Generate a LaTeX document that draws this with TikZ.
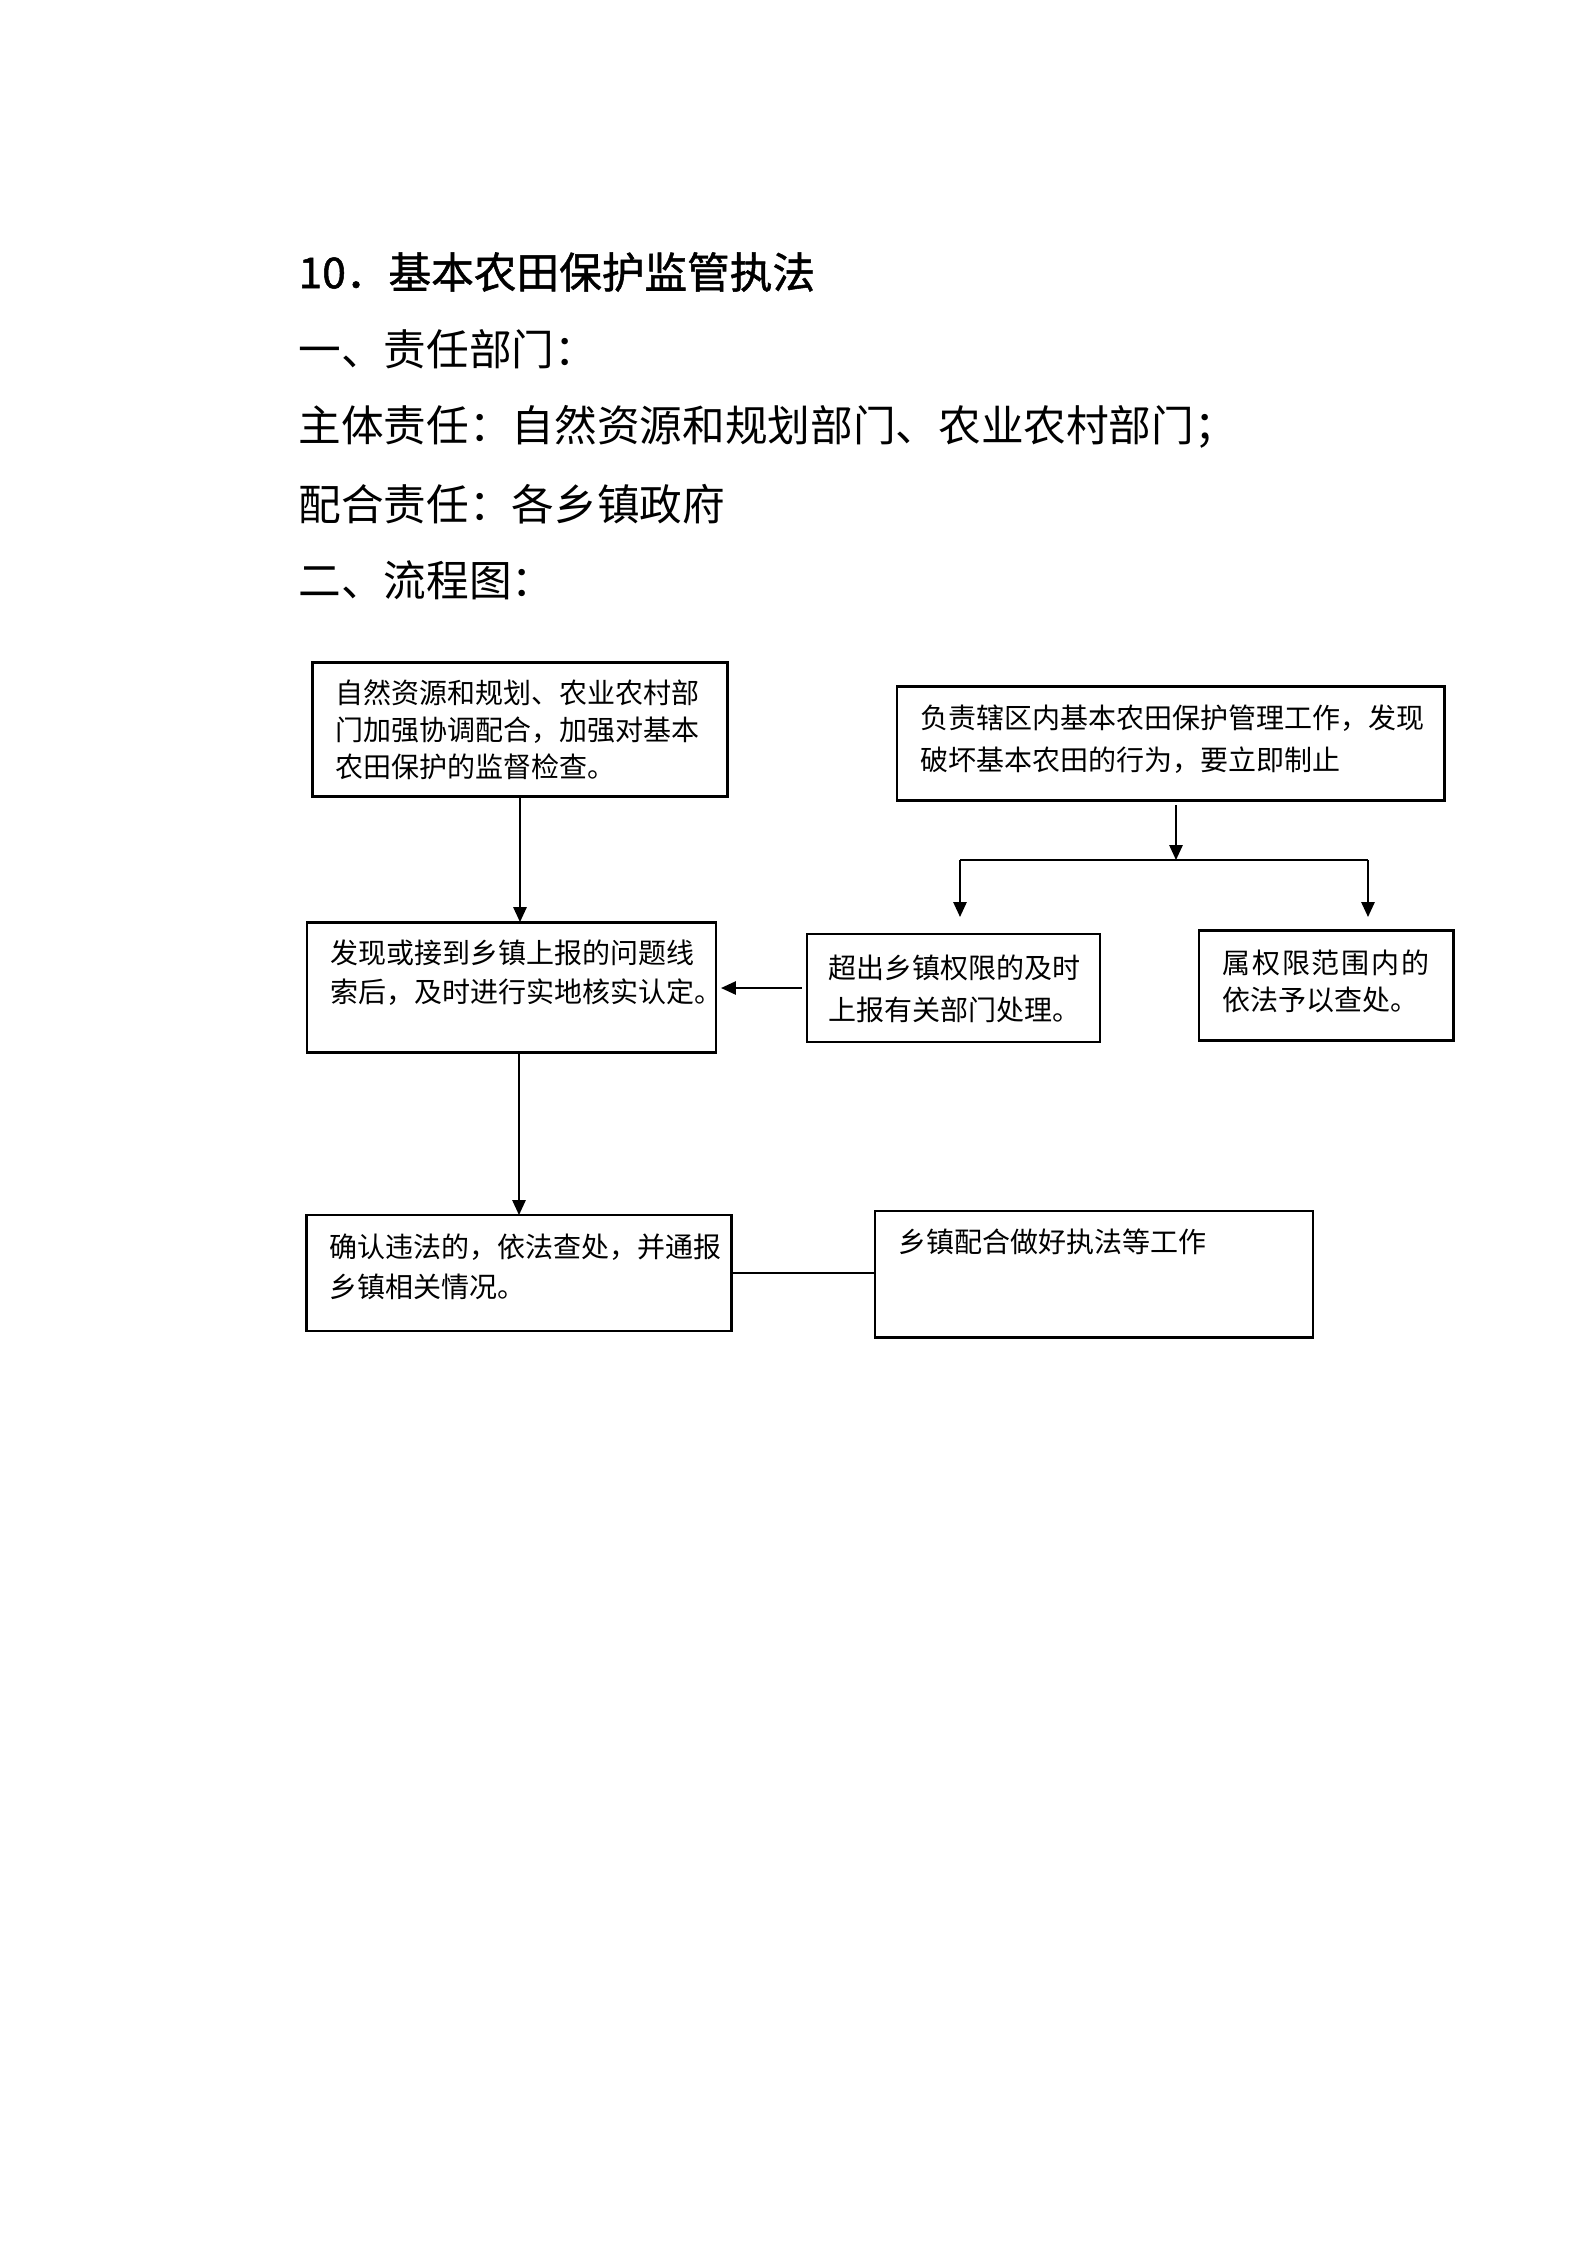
\documentclass[tikz,border=0pt]{standalone}
\usepackage{fontspec}
\setmainfont{Noto Sans CJK SC}
\usetikzlibrary{arrows.meta}
\tikzset{
  box/.style={draw, line width=1.1pt, inner sep=0pt, outer sep=0pt},
  boxtext/.style={anchor=north west, align=left, inner sep=0pt},
  heading/.style={anchor=west, inner sep=0pt, font=\fontsize{16}{20}\selectfont},
  conn/.style={line width=0.65pt},
  arr/.style={conn, -{Triangle[length=5.6pt,width=5pt]}}
}
\begin{document}
\begin{tikzpicture}[x=0.3751pt,y=-0.3751pt]
\path[use as bounding box, fill=white] (0,0) rectangle (1587,2245);

% headings
\node[heading] (t0) at (298,272) {\addfontfeature{FakeBold=1.2}10．基本农田保护监管执法};
\node[heading] (t1) at (298,349) {一、责任部门：};
\node[heading] (t2) at (298,427) {主体责任：自然资源和规划部门、农业农村部门；};
\node[heading] (t3) at (298,504) {配合责任：各乡镇政府};
\node[heading] (t4) at (298,580) {二、流程图：};

% boxes
\node[box, minimum width=156.0pt, minimum height=50.6pt] (A) at (520,729.5) {};
\node[box, minimum width=153.4pt, minimum height=49.1pt] (B) at (511.5,987.5) {};
\node[box, minimum width=205.2pt, minimum height=43.1pt] (C) at (1170.5,743.5) {};
\node[box, minimum width=109.9pt, minimum height=40.5pt] (D) at (953.5,988) {};
\node[box, minimum width=95.3pt, minimum height=41.6pt] (E) at (1326,985.5) {};
\node[box, minimum width=159.4pt, minimum height=43.5pt] (F) at (519,1273) {};
\node[box, minimum width=164.3pt, minimum height=47.3pt] (G) at (1094,1274) {};

% box texts
\node[boxtext, font=\fontsize{10.5}{13.9}\selectfont] (Atext) at (335,679)
  {自然资源和规划、农业农村部\\门加强协调配合，加强对基本\\农田保护的监督检查。};
\node[boxtext, font=\fontsize{10.5}{14.6}\selectfont] (Btext) at (330,939)
  {发现或接到乡镇上报的问题线\\索后，及时进行实地核实认定。};
\node[boxtext, font=\fontsize{10.5}{15.75}\selectfont] (Ctext) at (920,704)
  {负责辖区内基本农田保护管理工作，发现\\破坏基本农田的行为，要立即制止};
\node[boxtext, font=\fontsize{10.5}{15.75}\selectfont] (Dtext) at (828,954)
  {超出乡镇权限的及时\\上报有关部门处理。};
\node[boxtext, font=\fontsize{10.5}{13.9}\selectfont] (Etext) at (1222,949)
  {{\addfontfeature{LetterSpace=6.4}属权限范围内的}\\依法予以查处。};
\node[boxtext, font=\fontsize{10.5}{15}\selectfont] (Ftext) at (329,1233)
  {确认违法的，依法查处，并通报\\乡镇相关情况。};
\node[boxtext, font=\fontsize{10.5}{15}\selectfont] (Gtext) at (898,1228)
  {乡镇配合做好执法等工作};

% connectors
\coordinate (jc) at (1176,860);
\coordinate (jl) at (960,860);
\coordinate (jr) at (1368,860);
\draw[arr] (A.south) -- (A.south |- B.north);
\draw[arr] (F.north |- B.south) -- (F.north);
\draw[arr, shorten <=1.5pt] (jc |- C.south) -- (jc);
\draw[conn] (jl) -- (jr);
\draw[arr, shorten >=6.4pt] (jl) -- (jl |- D.north);
\draw[arr, shorten >=4.9pt] (jr) -- (jr |- E.north);
\draw[arr, shorten <=1.9pt, shorten >=1.9pt] (D.west) -- (D.west -| B.east);
\draw[conn] (F.east) -- (F.east -| G.west);
\end{tikzpicture}
\end{document}
